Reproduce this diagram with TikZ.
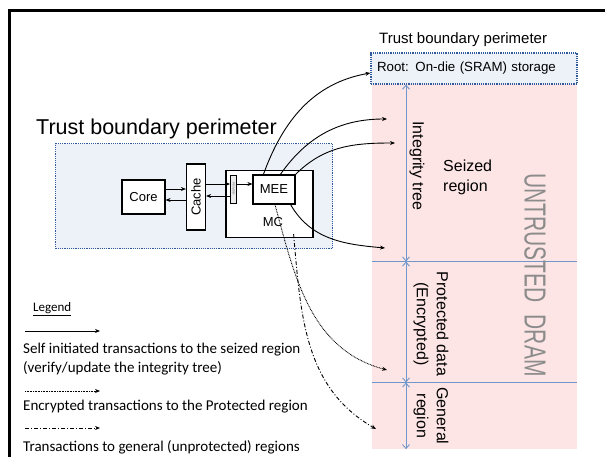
\documentclass[tikz,border=0pt]{standalone}
\usepackage{fontspec}
\setmainfont{Liberation Sans}
\newfontfamily\legendfont{Carlito}
\usepackage{graphicx}
\usetikzlibrary{arrows.meta}

\definecolor{trustfill}{HTML}{EDF2F8}
\definecolor{trustline}{HTML}{2E5A9C}
\definecolor{dramfill}{HTML}{FDE5E5}
\definecolor{regionline}{HTML}{6F97CC}
\definecolor{dramtext}{HTML}{8C8C8C}

\tikzset{
    unit/.style={draw, fill=white, line width=1.2pt, inner sep=0pt, font=\fontsize{13}{15}\selectfont},
    trust/.style={draw=trustline, fill=trustfill, line width=1.2pt, dash pattern=on 1.2pt off 1pt},
    plain/.style={inner sep=0pt, font=\fontsize{16}{20}\selectfont},
    legend/.style={inner sep=0pt, font=\legendfont\fontsize{15}{19}\selectfont},
    txn/.style={-{Stealth[length=5pt,width=4pt]}, line width=0.9pt},
    enc/.style={txn, dash pattern=on 0.8pt off 0.8pt},
    gen/.style={txn, dash pattern=on 4pt off 2pt on 1pt off 2pt},
    span/.style={{Straight Barb[length=4pt,width=7pt]}-{Straight Barb[length=4pt,width=7pt]}, draw=regionline, line width=0.9pt},
}

\begin{document}
\begin{tikzpicture}[x=1pt,y=1pt]
    \useasboundingbox (0,0) rectangle (605,-457);
    \draw [line width=3pt] (9,-457) -- (9,-11) -- (605,-11);

    \path ( 55,-143) node [trust, anchor=north west, minimum width=277pt, minimum height=105pt] (chip) {};
    \path ( 36,-129) node [anchor=west, inner sep=0pt, font=\fontsize{21.5}{24}\selectfont] (chiplabel) {Trust boundary perimeter};
    \path (143.5,-197) node [unit, minimum width=43pt, minimum height=34pt] (core) {Core};
    \path (196,-197) node [unit, minimum width=19pt, minimum height=66pt] (cache) {\rotatebox{90}{Cache}};
    \path (269.5,-204) node [unit, minimum width=87pt, minimum height=67pt] (mc) {};
    \path (273,-222) node [inner sep=0pt, font=\fontsize{13}{15}\selectfont] (mclabel) {MC};
    \path (233.5,-189) node [unit, line width=0.8pt, fill=gray!15, minimum width=6pt, minimum height=28pt] (prmrr) {\rotatebox{-90}{\color{gray}\fontsize{3.5}{4}\selectfont PRMRR}};
    \path (274,-189.5) node [unit, minimum width=42pt, minimum height=29pt] (mee) {MEE};

    \draw [txn] ([yshift=8pt]core.east) -- ([yshift=8pt]core.east -| cache.west);
    \draw [txn] ([yshift=-3pt]cache.west) -- ([yshift=-3pt]cache.west -| core.east);
    \draw [txn] ([yshift=13pt]cache.east) -- ([yshift=13pt]cache.east -| prmrr.west);
    \draw [txn] ([yshift=-7pt]prmrr.west) -- ([yshift=-7pt]prmrr.west -| cache.east);
    \draw [txn] ([yshift=5pt]prmrr.east) -- ([yshift=5pt]prmrr.east -| mee.west);

    \path (474.5,-266.5) node [fill=dramfill, minimum width=205pt, minimum height=365pt] (dram) {};
    \path (474,-68.5) node [trust, minimum width=206pt, minimum height=31pt, inner xsep=6pt, text width=194pt, align=left, font=\fontsize{13.3}{15}\selectfont] (root) {Root: On-die (SRAM) storage};
    \path (379,-40) node [anchor=west, inner sep=0pt, font=\fontsize{15}{18}\selectfont] (rootlabel) {Trust boundary perimeter};

    \coordinate (cut1) at (0,-261.5);
    \coordinate (cut2) at (0,-382.5);
    \coordinate (spanx) at (406,0);
    \draw [regionline, line width=0.8pt] (dram.west |- cut1) -- (dram.east |- cut1);
    \draw [regionline, line width=0.8pt] (dram.west |- cut2) -- (dram.east |- cut2);
    \draw [span] (root.south -| spanx) -- (cut1 -| spanx);
    \draw [span] (cut1 -| spanx) -- (cut2 -| spanx);
    \draw [span] (cut2 -| spanx) -- (dram.south -| spanx);

    \path (417,-166) node [plain, rotate=-90] (treelabel) {Integrity tree};
    \path (443,-177) node [plain, anchor=west, align=left] (seized) {Seized\\region};
    \path (535,-275) node [inner sep=0pt, rotate=-90, text=dramtext, font=\fontsize{21}{24}\selectfont] (dramlabel) {\scalebox{1}[1.45]{UNTRUSTED\hspace{12pt}DRAM}};
    \path (431,-324) node [plain, rotate=-90, align=center] (protlabel) {Protected data\\(Encrypted)};
    \path (431,-416) node [plain, rotate=-90, align=center] (genlabel) {General\\region};

    \coordinate (seizedA) at (387,-119);
    \coordinate (seizedB) at (395,-143);
    \coordinate (seizedC) at (385,-248);
    \coordinate (protin) at (387,-370);
    \coordinate (genin) at (376,-429);
    \draw [txn] ([xshift=11pt]mee.north west) to [out=70, in=190] ([yshift=-4.5pt]root.west);
    \draw [txn] ([xshift=28pt]mee.north west) to [out=55, in=180] (seizedA);
    \draw [txn] (mee.north east) to [out=45, in=180] (seizedB);
    \draw [txn] ([xshift=-5pt]mee.south east) to [out=-60, in=175] (seizedC);
    \draw [enc] ([xshift=1pt]mee.south) to [out=-75, in=165] (protin);
    \draw [gen] ([xshift=-20pt, yshift=4pt]mc.south east) to [out=-85, in=150] (genin);

    \path (33,-309) node [anchor=west, inner sep=0pt, font=\legendfont\fontsize{13}{15}\selectfont] (legendtitle) {\underline{Legend}};
    \coordinate (solidA) at (25,-331);
    \coordinate (solidB) at (100,-331);
    \coordinate (dotA) at (25,-391);
    \coordinate (dotB) at (100,-391);
    \coordinate (dashA) at (25,-428);
    \coordinate (dashB) at (100,-428);
    \draw [txn] (solidA) -- (solidB);
    \draw [enc] (dotA) -- (dotB);
    \draw [gen] (dashA) -- (dashB);
    \path (23,-359.5) node [legend, anchor=west, align=left] (selflabel) {Self initiated transactions to the seized region\\(verify/update the integrity tree)};
    \path (23,-407) node [legend, anchor=west] (enclabel) {Encrypted transactions to the Protected region};
    \path (23,-447) node [legend, anchor=west] (genlegend) {Transactions to general (unprotected) regions};
\end{tikzpicture}
\end{document}
